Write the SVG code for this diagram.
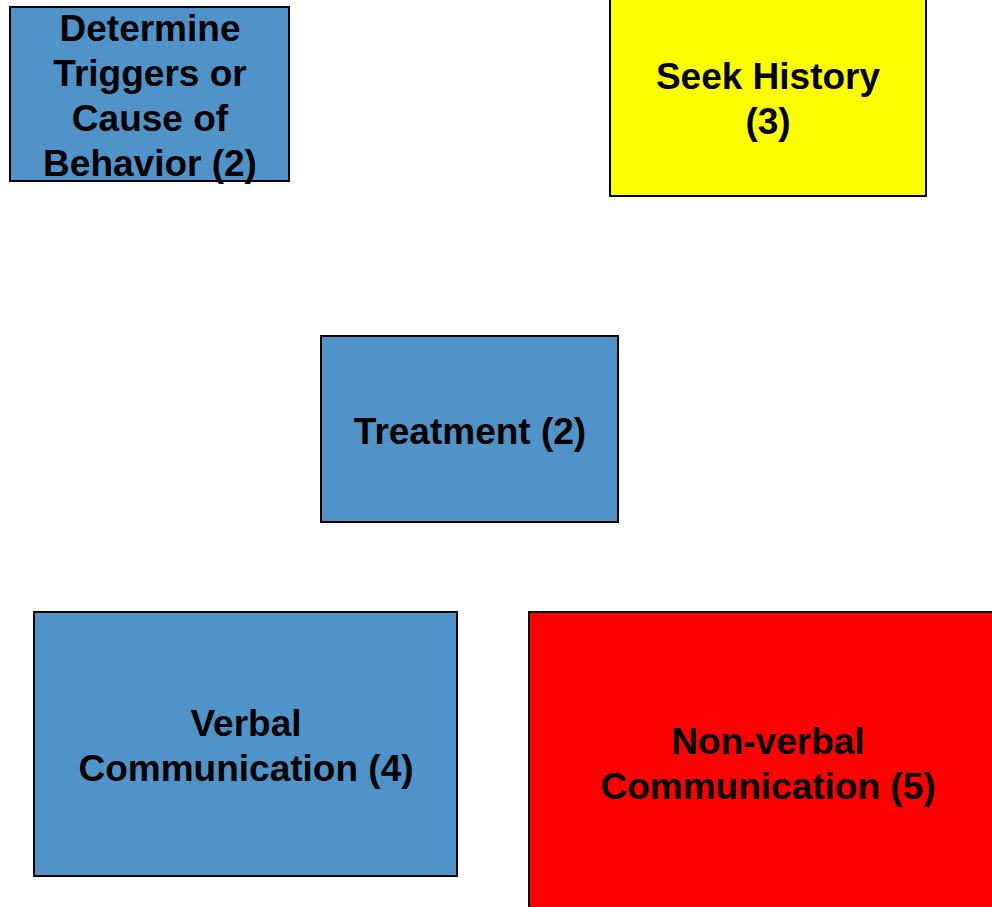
<svg xmlns="http://www.w3.org/2000/svg" width="992" height="907" viewBox="0 0 992 907">
<style>
rect{stroke:#000;stroke-width:2}
.b{fill:#5093C9}
.y{fill:#FFFF00}
.r{fill:#FF0000}
text{font-family:"Liberation Sans",Arial,sans-serif;font-weight:bold;font-size:37px;fill:#000;text-anchor:middle}
</style>
<rect x="0" y="0" width="992" height="907" fill="#fff" style="stroke:none"/>
<g id="connectors"></g>
<g id="n1">
<rect class="b" x="10" y="7" width="279" height="174"/>
<text x="150" y="41">Determine</text>
<text x="150" y="86">Triggers or</text>
<text x="150" y="131">Cause of</text>
<text x="150" y="176">Behavior (2)</text>
</g>
<g id="n2">
<rect class="y" x="610" y="-2" width="316" height="198"/>
<text x="768" y="89">Seek History</text>
<text x="768" y="134">(3)</text>
</g>
<g id="n3">
<rect class="b" x="321" y="336" width="297" height="186"/>
<text x="470" y="444">Treatment (2)</text>
</g>
<g id="n4">
<rect class="b" x="34" y="612" width="423" height="264"/>
<text x="246" y="736">Verbal</text>
<text x="246" y="781">Communication (4)</text>
</g>
<g id="n5">
<rect class="r" x="529" y="612" width="480" height="300"/>
<text x="768" y="754">Non-verbal</text>
<text x="768" y="799">Communication (5)</text>
</g>
</svg>
